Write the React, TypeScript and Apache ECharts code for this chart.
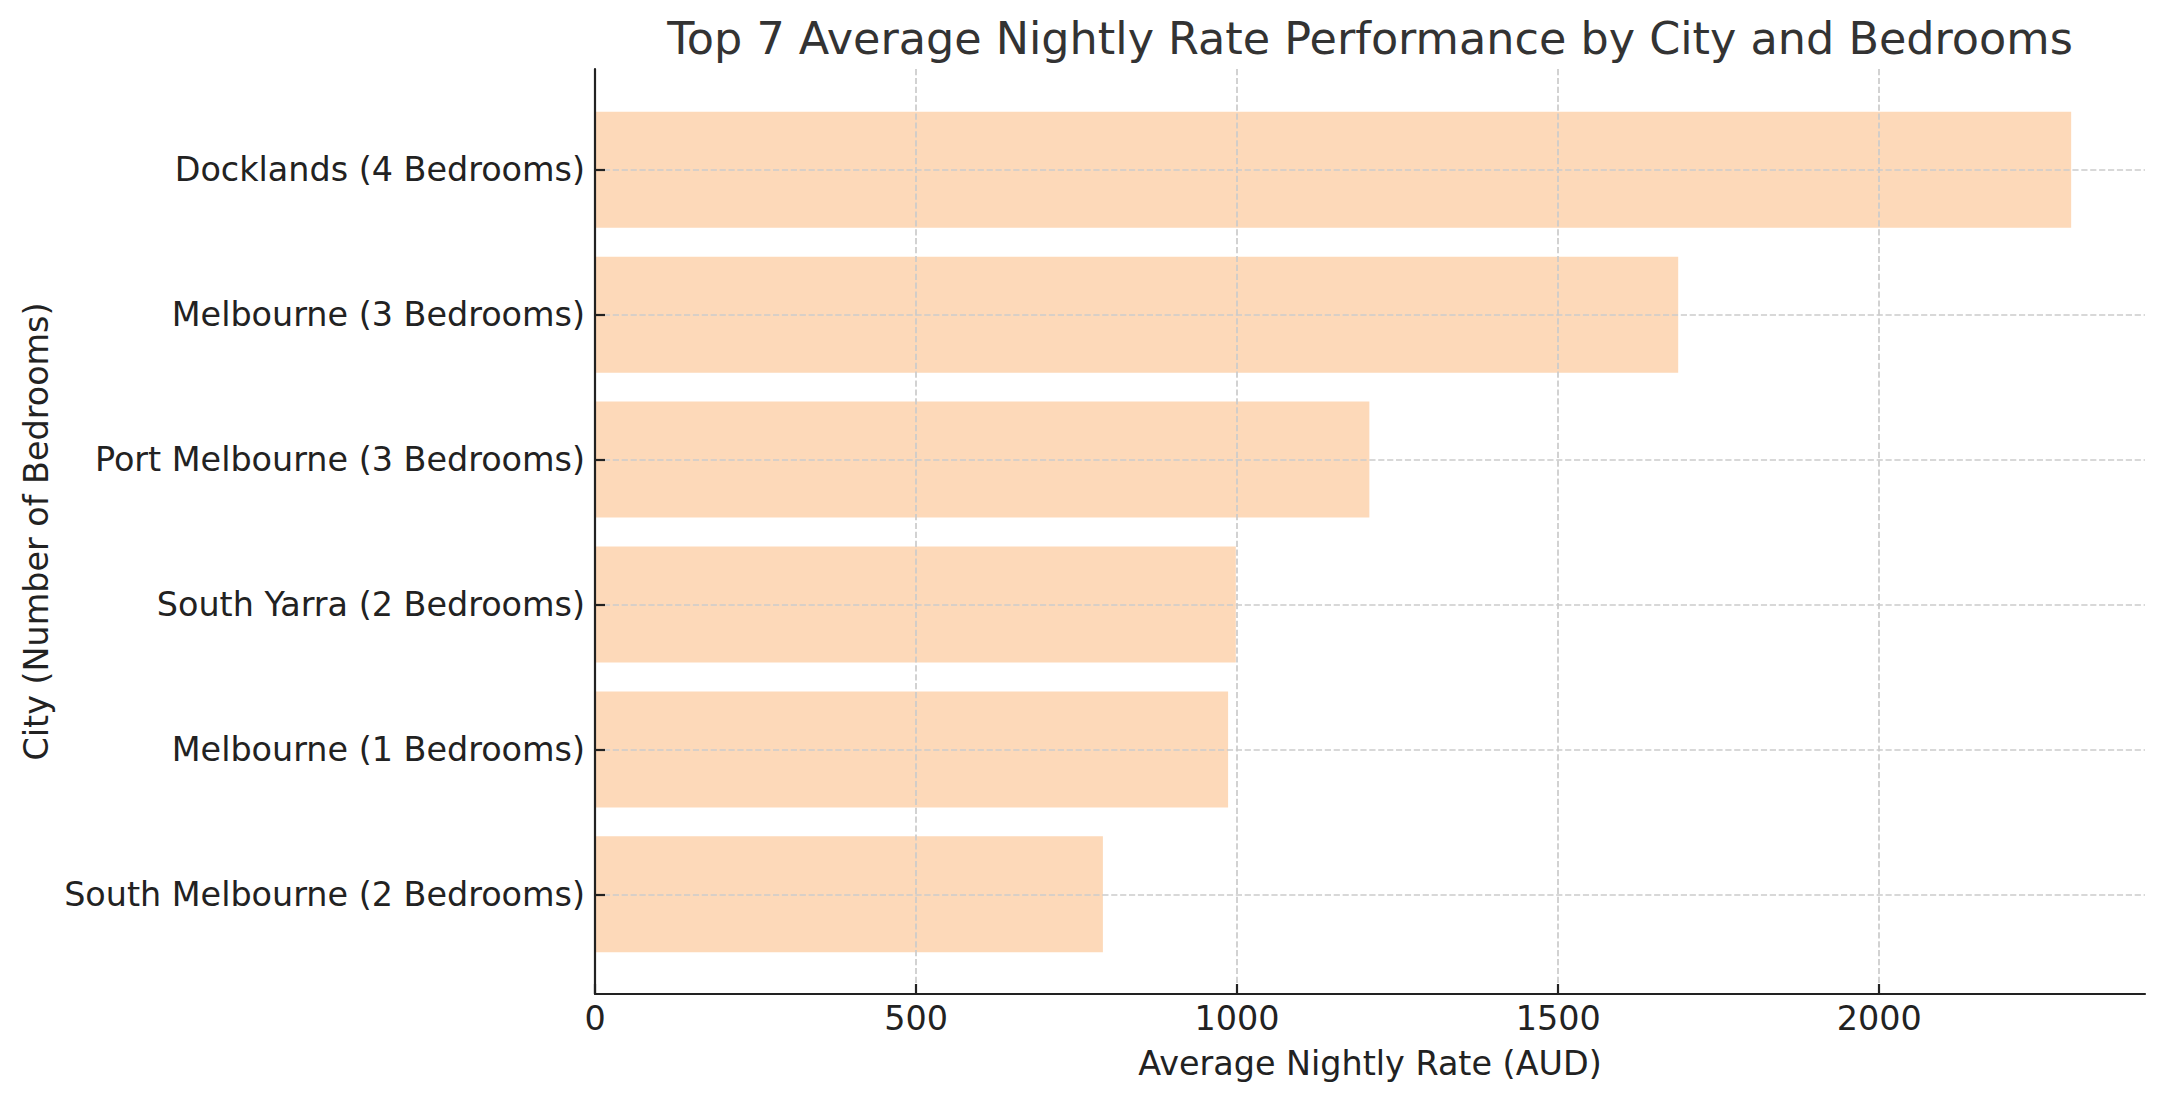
import React, { useEffect, useRef } from 'react';
import * as echarts from 'echarts';

const categories = [
  'Docklands (4 Bedrooms)',
  'Melbourne (3 Bedrooms)',
  'Port Melbourne (3 Bedrooms)',
  'South Yarra (2 Bedrooms)',
  'Melbourne (1 Bedrooms)',
  'South Melbourne (2 Bedrooms)',
];
const rates = [2299, 1687, 1206, 998, 986, 791];
const xTickValues = [0, 500, 1000, 1500, 2000];
const xMax = 2414;

const titleText = 'Top 7 Average Nightly Rate Performance by City and Bedrooms';
const xName = 'Average Nightly Rate (AUD)';
const yName = 'City (Number of Bedrooms)';

const FONT = 'DejaVu Sans';
const INK = '#222222';
const GRID_COLOR = '#cbcbcb';

export default function App() {
  const ref = useRef<HTMLDivElement>(null);
  useEffect(() => {
    document.body.style.margin = '0';
    const chart = echarts.init(ref.current as HTMLDivElement, null, { renderer: 'svg' });
    const option: any = {
      animation: false,
      backgroundColor: '#ffffff',
      textStyle: { fontFamily: FONT },
      title: {
        text: titleText,
        left: 1370,
        textAlign: 'center',
        top: 16,
        padding: 0,
        textStyle: { fontFamily: FONT, fontSize: 44.5, fontWeight: 'normal', color: '#333333' },
      },
      grid: [
        { left: 595, top: 169.8, width: 1550, height: 724.5 },
        { left: 595, top: 69, width: 1550, height: 925 },
      ],
      xAxis: [
        {
          gridIndex: 0,
          type: 'value',
          min: 0,
          max: xMax,
          show: false,
        },
        {
          gridIndex: 1,
          type: 'value',
          min: 0,
          max: xMax,
          z: 10,
          name: xName,
          nameLocation: 'middle',
          nameGap: 53,
          nameTextStyle: { fontFamily: FONT, fontSize: 33.4, color: INK },
          axisLine: { show: true, lineStyle: { color: INK, width: 2.2 } },
          axisTick: {
            show: true,
            inside: true,
            length: 10,
            customValues: xTickValues,
            lineStyle: { color: INK, width: 2.2 },
          },
          axisLabel: {
            show: true,
            customValues: xTickValues,
            formatter: (v: number) => String(v),
            margin: 8,
            fontFamily: FONT,
            fontSize: 33.4,
            color: INK,
          },
          splitLine: {
            show: true,
            showMinLine: false,
            lineStyle: { color: GRID_COLOR, width: 1.7, type: [6.2, 2.7] },
          },
        },
      ],
      yAxis: [
        {
          gridIndex: 0,
          type: 'category',
          data: categories,
          inverse: true,
          boundaryGap: false,
          z: 10,
          axisLine: { show: false },
          axisTick: { show: true, inside: true, length: 10, lineStyle: { color: INK, width: 2.2 } },
          axisLabel: {
            show: true,
            interval: 0,
            margin: 10,
            padding: [6, 0, 0, 0],
            fontFamily: FONT,
            fontSize: 33.4,
            color: INK,
          },
          splitLine: { show: true, lineStyle: { color: GRID_COLOR, width: 1.7, type: [6.2, 2.7] } },
        },
        {
          gridIndex: 1,
          type: 'value',
          min: 0,
          max: 1,
          z: 10,
          name: yName,
          nameLocation: 'middle',
          nameGap: 542,
          nameTextStyle: { fontFamily: FONT, fontSize: 33.4, color: INK },
          axisLine: { show: true, lineStyle: { color: INK, width: 2.2 } },
          axisTick: { show: false },
          axisLabel: { show: false },
          splitLine: { show: false },
        },
      ],
      series: [
        {
          type: 'bar',
          xAxisIndex: 0,
          yAxisIndex: 0,
          data: rates,
          barWidth: 116,
          clip: false,
          z: 2,
          itemStyle: { color: '#fdd9b9' },
        },
      ],
    };
    chart.setOption(option);
    return () => chart.dispose();
  }, []);
  return <div ref={ref} style={{ width: 2164, height: 1101 }} />;
}
